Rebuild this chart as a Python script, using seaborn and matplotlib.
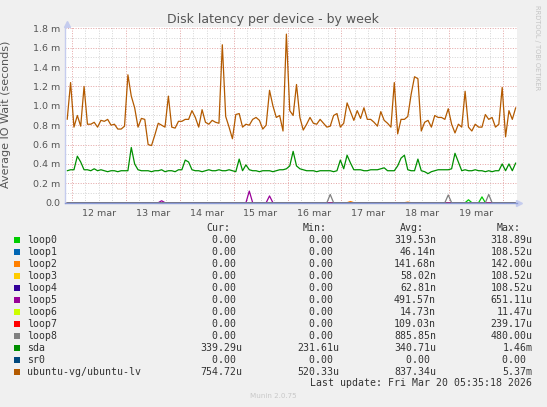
import matplotlib
matplotlib.use("Agg")
import matplotlib.pyplot as plt
import numpy as np
import pandas as pd
import seaborn as sns
from matplotlib.patches import Rectangle

# 90 minute averages from 11 mar 22:00 to 20 mar 05:30, values in ms
start = "2026-03-11 22:00"

ubuntu_lv = [
    0.86, 1.24, 0.78, 0.90, 0.79, 1.20, 0.81, 0.81, 0.83, 0.78,
    0.85, 0.84, 0.86, 0.80, 0.81, 0.76, 0.76, 0.79, 1.32, 1.10,
    0.98, 0.78, 0.87, 0.86, 0.60, 0.59, 0.70, 0.82, 0.80, 0.78,
    1.10, 0.78, 0.77, 0.84, 0.84, 0.86, 0.86, 0.95, 0.88, 0.78,
    0.96, 0.83, 0.81, 0.85, 0.83, 0.82, 1.63, 0.89, 0.78, 0.66,
    0.91, 0.92, 0.78, 0.81, 0.80, 0.86, 0.88, 0.85, 0.76, 0.80,
    1.16, 1.00, 0.88, 0.90, 0.74, 1.74, 0.95, 0.90, 1.22, 0.88,
    0.75, 0.81, 0.88, 0.82, 0.81, 0.86, 0.82, 0.78, 0.79, 0.90,
    0.92, 0.78, 0.82, 1.03, 0.94, 0.85, 0.95, 0.87, 0.98, 0.86,
    0.86, 0.83, 0.79, 0.94, 0.85, 0.82, 0.78, 1.24, 0.71, 0.86,
    0.86, 0.89, 1.12, 1.30, 1.28, 0.74, 0.83, 0.85, 0.78, 0.90,
    0.88, 0.88, 0.86, 0.97, 0.81, 0.72, 0.81, 0.78, 1.15, 0.78,
    0.74, 0.81, 0.78, 0.78, 0.91, 0.86, 0.88, 0.78, 0.81, 1.19,
    0.68, 0.95, 0.86, 0.98,
]

sda = [
    0.33, 0.34, 0.34, 0.48, 0.42, 0.34, 0.34, 0.33, 0.35, 0.33,
    0.34, 0.33, 0.32, 0.33, 0.33, 0.32, 0.33, 0.33, 0.33, 0.57,
    0.40, 0.34, 0.33, 0.33, 0.33, 0.32, 0.33, 0.33, 0.34, 0.32,
    0.33, 0.33, 0.32, 0.34, 0.34, 0.44, 0.42, 0.34, 0.33, 0.33,
    0.32, 0.33, 0.34, 0.33, 0.33, 0.34, 0.33, 0.33, 0.34, 0.33,
    0.32, 0.45, 0.33, 0.39, 0.34, 0.33, 0.33, 0.32, 0.33, 0.33,
    0.33, 0.32, 0.33, 0.34, 0.34, 0.35, 0.38, 0.53, 0.38, 0.35,
    0.34, 0.33, 0.33, 0.33, 0.32, 0.33, 0.33, 0.33, 0.33, 0.32,
    0.33, 0.44, 0.35, 0.49, 0.41, 0.34, 0.34, 0.34, 0.33, 0.33,
    0.34, 0.34, 0.34, 0.35, 0.36, 0.33, 0.33, 0.33, 0.38, 0.46,
    0.49, 0.34, 0.33, 0.33, 0.45, 0.33, 0.32, 0.30, 0.32, 0.33,
    0.34, 0.34, 0.34, 0.34, 0.35, 0.51, 0.42, 0.33, 0.34, 0.33,
    0.33, 0.34, 0.33, 0.33, 0.32, 0.33, 0.32, 0.33, 0.33, 0.40,
    0.33, 0.40, 0.33, 0.41,
]

# the loop devices are idle except for a few short spikes (sample index: ms)
loop0_spikes = {119: 0.03, 123: 0.06}
loop2_spikes = {84: 0.012, 101: 0.006}
loop5_spikes = {28: 0.02, 54: 0.12, 60: 0.07}
loop8_spikes = {78: 0.085, 113: 0.08, 125: 0.085}

devices = ["loop0", "loop1", "loop2", "loop3", "loop4", "loop5", "loop6",
           "loop7", "loop8", "sda", "sr0", "ubuntu-vg/ubuntu-lv"]
colors = ["#00CC00", "#0066B3", "#FF8000", "#FFCC00", "#330099", "#990099",
          "#CCFF00", "#FF0000", "#808080", "#008F00", "#00487D", "#B35A00"]

cur_vals = ["0.00", "0.00", "0.00", "0.00", "0.00", "0.00", "0.00", "0.00",
            "0.00", "339.29u", "0.00", "754.72u"]
min_vals = ["0.00", "0.00", "0.00", "0.00", "0.00", "0.00", "0.00", "0.00",
            "0.00", "231.61u", "0.00", "520.33u"]
avg_vals = ["319.53n", "46.14n", "141.68n", "58.02n", "62.81n", "491.57n",
            "14.73n", "109.03n", "885.85n", "340.71u", "0.00", "837.34u"]
max_vals = ["318.89u", "108.52u", "142.00u", "108.52u", "108.52u", "651.11u",
            "11.47u", "239.17u", "480.00u", "1.46m", "0.00", "5.37m"]

yticks = [0.0, 0.2, 0.4, 0.6, 0.8, 1.0, 1.2, 1.4, 1.6, 1.8]
ytick_labels = ["0.0", "0.2 m", "0.4 m", "0.6 m", "0.8 m", "1.0 m",
                "1.2 m", "1.4 m", "1.6 m", "1.8 m"]

# build the long table
n = len(ubuntu_lv)
times = pd.date_range(start, periods=n, freq="90min")


def from_spikes(spikes):
    v = np.zeros(n)
    for k, val in spikes.items():
        v[k] = val
    return v


series = {d: np.zeros(n) for d in devices}
series["loop0"] = from_spikes(loop0_spikes)
series["loop2"] = from_spikes(loop2_spikes)
series["loop5"] = from_spikes(loop5_spikes)
series["loop8"] = from_spikes(loop8_spikes)
series["sda"] = np.array(sda)
series["ubuntu-vg/ubuntu-lv"] = np.array(ubuntu_lv)

df = pd.concat([pd.DataFrame({"time": times, "wait": series[d], "device": d})
                for d in devices], ignore_index=True)

sns.set_style("white")
plt.rcParams['font.family'] = "DejaVu Sans"

W, H = 547, 407
fig = plt.figure(figsize=(W / 100, H / 100), dpi=100, facecolor="#F0F0F0")
ax = fig.add_axes([65 / W, 1 - 202.7 / H, 451.7 / W, 176 / H])
ax.set_facecolor("white")

x0 = pd.Timestamp("2026-03-11 21:01")
x1 = pd.Timestamp("2026-03-20 05:57")

# rrdtool style dotted grid
for t in pd.date_range("2026-03-11 00:00", "2026-03-21 00:00", freq="6h"):
    if x0 < t < x1:
        c = "#E3A3A3" if t.hour == 0 else "#D4D4D4"
        ax.axvline(t, color=c, lw=0.7, ls=(0, (1, 1.6)), zorder=0.5)
for i in range(1, 19):
    c = "#E3A3A3" if i % 2 == 0 else "#D4D4D4"
    ax.axhline(i / 10, color=c, lw=0.7, ls=(0, (1, 1.6)), zorder=0.5)

sns.lineplot(data=df, x="time", y="wait", hue="device", hue_order=devices,
             palette=dict(zip(devices, colors)), estimator=None,
             linewidth=0.9, legend=False, ax=ax)

ax.set_xlim(x0, x1)
ax.set_ylim(0, 1.8165)
ax.set_yticks(yticks)
ax.set_yticklabels(ytick_labels)
noon = pd.date_range("2026-03-12 12:00", periods=8, freq="D")
ax.set_xticks(noon)
ax.set_xticklabels([f"{d.day} mar" for d in noon])
ax.tick_params(axis="both", length=0, labelsize=6.8, colors="#555555")
ax.tick_params(axis="x", pad=4.5)
ax.tick_params(axis="y", pad=3.5)
ax.set_xlabel("")
ax.set_ylabel("Average IO Wait (seconds)", fontsize=8, color="#555555")
ax.yaxis.set_label_coords(-0.120, 0.504)

for s in ["top", "right"]:
    ax.spines[s].set_visible(False)
ax.spines["left"].set_color("#C5CCEE")
ax.spines["bottom"].set_color("#8A9AD6")
ax.spines["left"].set_linewidth(1.0)
ax.spines["bottom"].set_linewidth(1.0)
ax.spines["left"].set_zorder(5)
ax.spines["bottom"].set_zorder(5)
ax.plot([0.004], [1.018], marker="^", ms=5, color="#C5CCEE",
        transform=ax.transAxes, clip_on=False)
ax.plot([1.006], [0.0], marker=">", ms=5, color="#C5CCEE",
        transform=ax.transAxes, clip_on=False)

fig.text(272.5 / W, 1 - 19.3 / H, "Disk latency per device - by week",
         ha="center", va="center", fontsize=9, color="#555555")
fig.text(537 / W, 1 - 5 / H, "RRDTOOL / TOBI OETIKER", rotation=270,
         ha="center", va="top", fontsize=4.8, color="#C4C4C4")

# legend table
mono = dict(family="DejaVu Sans Mono", fontsize=7.1, color="#333333")
col_right = [242, 339, 436, 532.5]
headers = ["Cur:", "Min:", "Avg:", "Max:"]
for xr, h in zip(col_right, headers):
    fig.text((xr - 12) / W, 1 - 227.7 / H, h, ha="right", va="center", **mono)

def cell(v):
    return v if v[-1].isalpha() else v + " "

for k, d in enumerate(devices):
    y = 240 + 11.98 * k
    fig.patches.append(Rectangle((14 / W, 1 - (y + 3) / H), 6 / W, 6 / H,
                                 transform=fig.transFigure,
                                 facecolor=colors[k], edgecolor="none"))
    fig.text(26.7 / W, 1 - y / H, d, ha="left", va="center", **mono)
    for xr, vals in zip(col_right, [cur_vals, min_vals, avg_vals, max_vals]):
        fig.text(xr / W, 1 - y / H, cell(vals[k]), ha="right", va="center",
                 **mono)

fig.text(532.5 / W, 1 - 383.3 / H, "Last update: Fri Mar 20 05:35:18 2026",
         ha="right", va="center", **mono)
fig.text(273 / W, 1 - 396 / H, "Munin 2.0.75", ha="center", va="center",
         fontsize=5.1, color="#C8C8C8")

fig.savefig("out.png", dpi=100, facecolor=fig.get_facecolor())
